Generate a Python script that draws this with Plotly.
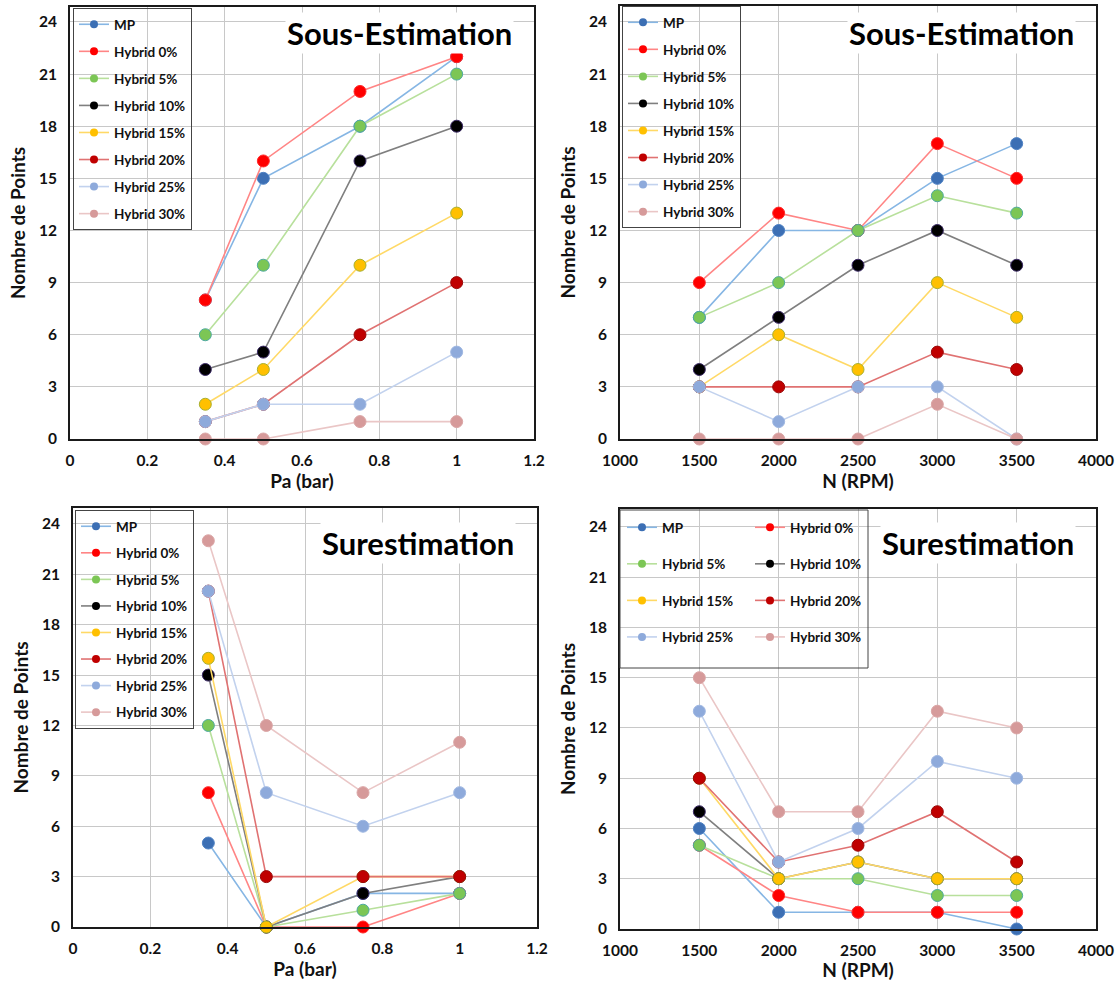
import plotly.graph_objects as go

# ---------------- data ----------------
series_names = ["MP", "Hybrid 0%", "Hybrid 5%", "Hybrid 10%", "Hybrid 15%",
                "Hybrid 20%", "Hybrid 25%", "Hybrid 30%"]

pa_values = [0.35, 0.5, 0.75, 1.0]
rpm_values = [1500, 2000, 2500, 3000, 3500]

# Sous-Estimation vs Pa
sous_pa_mp = [8, 15, 18, 22]
sous_pa_h0 = [8, 16, 20, 22]
sous_pa_h5 = [6, 10, 18, 21]
sous_pa_h10 = [4, 5, 16, 18]
sous_pa_h15 = [2, 4, 10, 13]
sous_pa_h20 = [1, 2, 6, 9]
sous_pa_h25 = [1, 2, 2, 5]
sous_pa_h30 = [0, 0, 1, 1]

# Sous-Estimation vs N
sous_n_mp = [7, 12, 12, 15, 17]
sous_n_h0 = [9, 13, 12, 17, 15]
sous_n_h5 = [7, 9, 12, 14, 13]
sous_n_h10 = [4, 7, 10, 12, 10]
sous_n_h15 = [3, 6, 4, 9, 7]
sous_n_h20 = [3, 3, 3, 5, 4]
sous_n_h25 = [3, 1, 3, 3, 0]
sous_n_h30 = [0, 0, 0, 2, 0]

# Surestimation vs Pa
sur_pa_mp = [5, 0, 2, 2]
sur_pa_h0 = [8, 0, 0, 2]
sur_pa_h5 = [12, 0, 1, 2]
sur_pa_h10 = [15, 0, 2, 3]
sur_pa_h15 = [16, 0, 3, 3]
sur_pa_h20 = [20, 3, 3, 3]
sur_pa_h25 = [20, 8, 6, 8]
sur_pa_h30 = [23, 12, 8, 11]

# Surestimation vs N
sur_n_mp = [6, 1, 1, 1, 0]
sur_n_h0 = [5, 2, 1, 1, 1]
sur_n_h5 = [5, 3, 3, 2, 2]
sur_n_h10 = [7, 3, 4, 3, 3]
sur_n_h15 = [9, 3, 4, 3, 3]
sur_n_h20 = [9, 4, 5, 7, 4]
sur_n_h25 = [13, 4, 6, 10, 9]
sur_n_h30 = [15, 7, 7, 13, 12]

y_ticks = [0, 3, 6, 9, 12, 15, 18, 21, 24]
pa_ticks = [0, 0.2, 0.4, 0.6, 0.8, 1, 1.2]
rpm_ticks = [1000, 1500, 2000, 2500, 3000, 3500, 4000]

panel_titles = ["Sous-Estimation", "Sous-Estimation", "Surestimation", "Surestimation"]

# ---------------- style ----------------
marker_colors = ["#3c6fb4", "#ff0000", "#7cc655", "#000000", "#ffc000",
                 "#c00000", "#8eaadb", "#d69a9a"]
rim_colors = ["#4f82c4", "#ff2a2a", "#4faaa0", "#3b2a66", "#a8b030",
              "#9a0808", "#a0b8e2", "#dba6a6"]
line_colors = ["#86b6e4", "#ff8585", "#b8e09c", "#7f7f7f", "#ffd966",
               "#e07272", "#c2d2ee", "#eac6c6"]

FONT = "Lato"

fig = go.Figure()

W, H = 1119, 981


def px_x(p):
    return p / W


def px_y(p):
    return 1 - p / H


panels = [
    dict(xs=pa_values, ys=[sous_pa_mp, sous_pa_h0, sous_pa_h5, sous_pa_h10, sous_pa_h15,
                           sous_pa_h20, sous_pa_h25, sous_pa_h30],
         xdom=[px_x(70), px_x(534)], ydom=[px_y(439), px_y(7)], yr=24.86,
         xr=[0, 1.2], xt=pa_ticks, xtitle="Pa (bar)"),
    dict(xs=rpm_values, ys=[sous_n_mp, sous_n_h0, sous_n_h5, sous_n_h10, sous_n_h15,
                            sous_n_h20, sous_n_h25, sous_n_h30],
         xdom=[px_x(620), px_x(1096)], ydom=[px_y(439), px_y(6)], yr=24.92,
         xr=[1000, 4000], xt=rpm_ticks, xtitle="N (RPM)"),
    dict(xs=pa_values, ys=[sur_pa_mp, sur_pa_h0, sur_pa_h5, sur_pa_h10, sur_pa_h15,
                           sur_pa_h20, sur_pa_h25, sur_pa_h30],
         xdom=[px_x(73), px_x(537)], ydom=[px_y(927), px_y(508)], yr=24.95,
         xr=[0, 1.2], xt=pa_ticks, xtitle="Pa (bar)"),
    dict(xs=rpm_values, ys=[sur_n_mp, sur_n_h0, sur_n_h5, sur_n_h10, sur_n_h15,
                            sur_n_h20, sur_n_h25, sur_n_h30],
         xdom=[px_x(620), px_x(1096)], ydom=[px_y(929), px_y(509)], yr=25.07,
         xr=[1000, 4000], xt=rpm_ticks, xtitle="N (RPM)"),
]

legend_ids = ["legend", "legend2", "legend3"]

for pi, p in enumerate(panels):
    xa = "x" if pi == 0 else f"x{pi+1}"
    ya = "y" if pi == 0 else f"y{pi+1}"
    for si, name in enumerate(series_names):
        if pi < 3:
            leg = legend_ids[pi]
        else:
            leg = "legend4" if si % 2 == 0 else "legend5"
        # data trace
        fig.add_trace(go.Scatter(
            x=p["xs"], y=p["ys"][si], name=name, mode="lines+markers",
            xaxis=xa, yaxis=ya, showlegend=False,
            cliponaxis=False,
            line=dict(color=line_colors[si], width=1.6),
            marker=dict(size=12, color=marker_colors[si],
                        line=dict(color=rim_colors[si], width=1)),
        ))
        # legend entry (same styling, smaller marker)
        fig.add_trace(go.Scatter(
            x=[None], y=[None], name=name, mode="lines+markers",
            xaxis=xa, yaxis=ya, legend=leg, legendgroup=f"p{pi}s{si}",
            line=dict(color=line_colors[si], width=1.6),
            marker=dict(size=8, color=marker_colors[si]),
        ))

    axis_common = dict(showgrid=True, gridcolor="#c8c8c8", gridwidth=1,
                       showline=True, linecolor="#1a1a1a", linewidth=2, mirror=True,
                       zeroline=False, ticks="", automargin=False,
                       tickfont=dict(family=FONT, size=15.5, color="#111", weight="bold"))
    xkey = "xaxis" if pi == 0 else f"xaxis{pi+1}"
    ykey = "yaxis" if pi == 0 else f"yaxis{pi+1}"
    fig.update_layout(**{
        xkey: dict(domain=p["xdom"], range=p["xr"], tickvals=p["xt"],
                   anchor=ya, ticklabelstandoff=6,
                   title=dict(text=p["xtitle"], standoff=0,
                              font=dict(family=FONT, size=19, color="#111", weight="bold")),
                   **axis_common),
        ykey: dict(domain=p["ydom"], range=[0, p["yr"]], tickvals=y_ticks,
                   anchor=xa, ticklabelstandoff=8,
                   title=dict(text="Nombre de Points", standoff=8,
                              font=dict(family=FONT, size=19, color="#111", weight="bold")),
                   **axis_common),
    })

legend_font = dict(family=FONT, size=13.5, color="#111", weight="bold")
common_leg = dict(bgcolor="rgba(255,255,255,0)", bordercolor="#444", borderwidth=1,
                  font=legend_font, itemsizing="trace", traceorder="grouped",
                  xanchor="left", yanchor="top", itemwidth=30)

fig.update_layout(
    legend=dict(x=px_x(73), y=px_y(8), tracegroupgap=6.5, **common_leg),
    legend2=dict(x=px_x(622), y=px_y(6), tracegroupgap=6.5, **common_leg),
    legend3=dict(x=px_x(75), y=px_y(510), tracegroupgap=6, **common_leg),
    legend4=dict(x=px_x(622), y=px_y(512), tracegroupgap=16,
                 **{**common_leg, "borderwidth": 0}),
    legend5=dict(x=px_x(750), y=px_y(512), tracegroupgap=16,
                 **{**common_leg, "borderwidth": 0}),
)

# legend frame for the two-column legend of the last panel
fig.add_shape(type="rect", xref="paper", yref="paper",
              x0=px_x(620), x1=px_x(868), y0=px_y(668), y1=px_y(510),
              line=dict(color="#444", width=1), fillcolor="rgba(0,0,0,0)", layer="above")

title_pos = [(514, 33), (1076, 33), (516, 543), (1076, 543)]
for t, (tx, ty) in zip(panel_titles, title_pos):
    fig.add_annotation(text=t, xref="paper", yref="paper", x=px_x(tx), y=px_y(ty),
                       xanchor="right", yanchor="middle", showarrow=False,
                       bgcolor="white",
                       font=dict(family=FONT, size=31, color="#000", weight="bold"))

fig.update_layout(width=W, height=H, margin=dict(l=0, r=0, t=0, b=0),
                  paper_bgcolor="white", plot_bgcolor="white",
                  font=dict(family=FONT), showlegend=True)

fig.write_html("out.html", config={"displayModeBar": False},
               post_script="document.body.style.margin='0';document.body.style.overflow='hidden';")
